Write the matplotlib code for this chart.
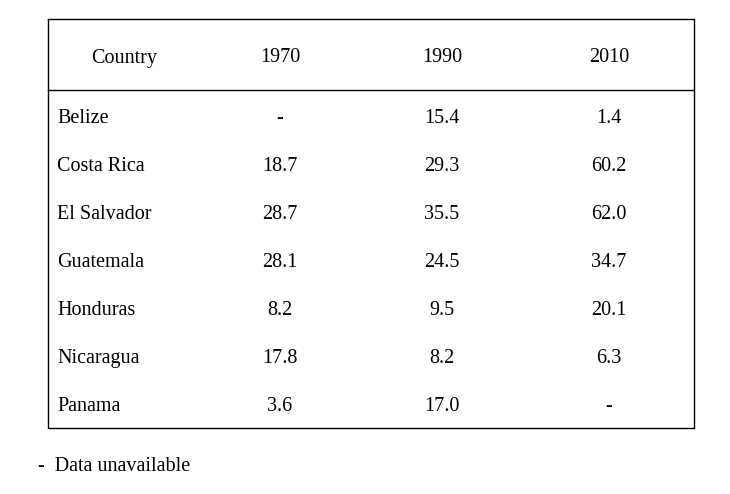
import matplotlib
matplotlib.use("Agg")
import matplotlib.pyplot as plt

countries = ["Belize", "Costa Rica", "El Salvador", "Guatemala", "Honduras", "Nicaragua", "Panama"]
years = ["1970", "1990", "2010"]
v1970 = ["-", "18.7", "28.7", "28.1", "8.2", "17.8", "3.6"]
v1990 = ["15.4", "29.3", "35.5", "24.5", "9.5", "8.2", "17.0"]
v2010 = ["1.4", "60.2", "62.0", "34.7", "20.1", "6.3", "-"]
footnote = "-  Data unavailable"

plt.rcParams["font.family"] = ["Liberation Serif", "DejaVu Serif"]

fig = plt.figure(figsize=(7.3, 4.94), dpi=100)
ax = fig.add_axes([0, 0, 1, 1])
ax.set_xlim(0, 730)
ax.set_ylim(494, 0)
ax.axis("off")

# table frame, pixel coordinates
left, right, top, bottom = 47.5, 693.5, 19.5, 427.5
header_line = 90.5
ax.plot([left, right, right, left, left], [top, top, bottom, bottom, top], color="black", lw=1.0)
ax.plot([left, right], [header_line, header_line], color="black", lw=1.0)

fs = 14.5
col_x = [280, 442, 609]
ax.text(124, 58, "Country", ha="center", va="center", fontsize=fs)
for x, y in zip(col_x, years):
    ax.text(x, 58, y, ha="center", va="center", fontsize=fs)

cols = [v1970, v1990, v2010]
for i, name in enumerate(countries):
    y = 118 + i * 48
    ax.text(57, y, name, ha="left", va="center", fontsize=fs)
    for x, vals in zip(col_x, cols):
        ax.text(x, y, vals[i], ha="center", va="center", fontsize=fs)

ax.text(38, 466, footnote, ha="left", va="center", fontsize=fs)

fig.savefig("out.png", dpi=100)
